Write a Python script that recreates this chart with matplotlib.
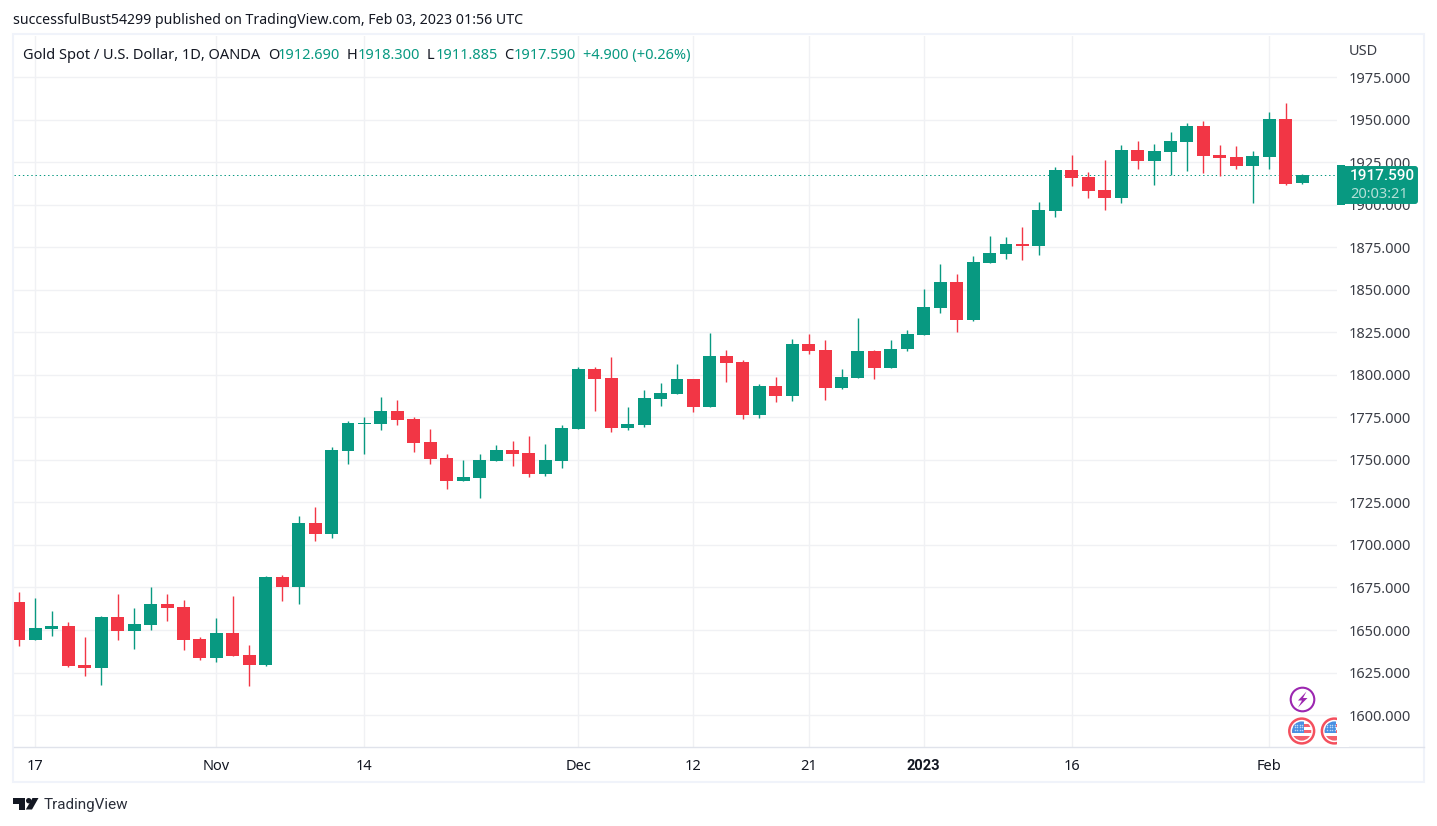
import matplotlib
matplotlib.use("Agg")
import matplotlib.pyplot as plt
from matplotlib.patches import Rectangle, Circle, Polygon, FancyBboxPatch

plt.rcParams['font.family'] = ['Noto Sans', 'DejaVu Sans']

GREEN = '#089981'
RED = '#F23645'
GRID = '#F0F1F4'
BORDER = '#F0F3FA'
INK = '#131722'
FS = 10.5
ROBOTO = ['Roboto', 'DejaVu Sans']

opens = [1666.6, 1644.3, 1650.7, 1652.5, 1629.6, 1627.8, 1657.8, 1649.5, 1653.1, 1665.4,
         1663.7, 1644.8, 1633.7, 1648.4, 1635.4, 1629.6, 1681.3, 1675.4, 1713.0, 1706.6,
         1755.4, 1771.2, 1771.2, 1778.9, 1774.2, 1760.6, 1751.2, 1737.7, 1739.5, 1749.5,
         1755.9, 1754.2, 1741.8, 1749.5, 1768.2, 1803.5, 1798.2, 1768.8, 1770.6, 1785.9,
         1788.8, 1797.7, 1781.2, 1811.2, 1807.6, 1776.5, 1793.5, 1787.7, 1818.2, 1814.7,
         1792.4, 1798.2, 1814.1, 1804.1, 1815.3, 1823.5, 1839.4, 1854.7, 1832.3, 1865.8,
         1871.1, 1877.0, 1875.8, 1896.4, 1920.5, 1916.4, 1908.8, 1904.1, 1932.3, 1925.8,
         1931.1, 1937.0, 1946.4, 1929.3, 1928.2, 1922.9, 1928.2, 1950.5, 1912.69]
highs = [1672.5, 1668.9, 1661.3, 1654.8, 1646.0, 1658.4, 1671.3, 1663.1, 1675.4, 1671.3,
         1667.8, 1646.0, 1657.2, 1670.1, 1641.3, 1681.9, 1682.5, 1717.1, 1722.4, 1757.7,
         1773.0, 1775.3, 1787.1, 1785.3, 1775.3, 1768.3, 1753.6, 1750.1, 1753.6, 1758.9,
         1761.2, 1764.2, 1759.5, 1770.6, 1804.7, 1804.7, 1810.6, 1781.2, 1791.2, 1795.3,
         1806.5, 1797.7, 1824.7, 1814.7, 1808.8, 1794.7, 1798.8, 1821.2, 1824.1, 1820.6,
         1803.5, 1833.5, 1814.7, 1820.6, 1826.5, 1850.5, 1865.2, 1859.4, 1870.0, 1881.7,
         1881.1, 1887.0, 1901.7, 1922.3, 1929.4, 1919.4, 1926.4, 1935.2, 1937.6, 1935.8,
         1942.8, 1948.1, 1949.3, 1935.2, 1934.6, 1931.7, 1954.6, 1959.9, 1918.3]
lows = [1640.7, 1644.0, 1646.6, 1628.4, 1623.1, 1617.8, 1644.3, 1639.0, 1650.1, 1655.4,
        1638.4, 1632.5, 1631.3, 1634.8, 1617.2, 1629.0, 1667.2, 1665.4, 1702.5, 1704.2,
        1747.7, 1753.6, 1767.7, 1770.6, 1754.8, 1747.7, 1733.0, 1737.7, 1727.7, 1749.5,
        1746.5, 1740.1, 1740.6, 1745.3, 1768.2, 1778.8, 1766.5, 1767.7, 1769.4, 1781.8,
        1788.8, 1778.2, 1781.2, 1795.9, 1774.1, 1774.7, 1784.1, 1784.7, 1812.3, 1785.3,
        1791.8, 1798.2, 1797.7, 1804.1, 1814.1, 1823.5, 1836.5, 1825.3, 1831.8, 1865.8,
        1868.2, 1867.6, 1870.6, 1892.9, 1911.1, 1904.1, 1897.0, 1901.1, 1921.1, 1911.7,
        1917.6, 1919.9, 1918.7, 1917.0, 1921.1, 1901.1, 1921.1, 1911.7, 1911.885]
closes = [1644.3, 1651.3, 1652.5, 1629.0, 1627.8, 1657.8, 1649.5, 1653.7, 1665.4, 1663.1,
          1644.3, 1633.7, 1648.4, 1634.8, 1629.6, 1681.3, 1675.4, 1713.0, 1706.6, 1755.9,
          1771.8, 1771.8, 1778.9, 1773.6, 1760.1, 1750.7, 1737.7, 1740.1, 1750.1, 1755.9,
          1753.6, 1741.8, 1750.1, 1768.9, 1803.5, 1797.7, 1768.8, 1771.2, 1786.5, 1789.4,
          1797.7, 1781.2, 1811.2, 1807.1, 1776.5, 1793.5, 1787.7, 1818.2, 1814.1, 1792.4,
          1798.8, 1814.1, 1804.1, 1815.3, 1824.1, 1840.0, 1854.7, 1832.3, 1866.4, 1871.7,
          1877.0, 1875.8, 1897.0, 1920.5, 1915.8, 1908.2, 1904.1, 1932.3, 1925.8, 1931.7,
          1937.6, 1946.4, 1928.7, 1927.6, 1922.9, 1928.7, 1950.5, 1912.3, 1917.59]

price_ticks = [1600, 1625, 1650, 1675, 1700, 1725, 1750, 1775, 1800, 1825, 1850, 1875, 1900, 1925, 1950, 1975]
date_ticks = [1, 12, 21, 34, 41, 48, 55, 64, 76]
date_labels = ["17", "Nov", "14", "Dec", "12", "21", "2023", "16", "Feb"]

W, H = 1437, 826
fig = plt.figure(figsize=(W / 100, H / 100), dpi=100, facecolor='white')

# main pane, 14..1337 px across and 36..747 px down
ax = fig.add_axes([14 / W, 1 - 747 / H, (1337 - 14) / W, (747 - 36) / H])
ax.set_xlim((14 - 19.0) / 16.45, (1337 - 19.0) / 16.45)
ax.set_ylim(1581.25, 1999.15)
for s in ax.spines.values():
    s.set_visible(False)

ax.set_axisbelow(True)
ax.grid(True, color=GRID, lw=1.0)
ax.set_yticks(price_ticks)
ax.set_yticklabels(["%.3f" % p for p in price_ticks])
ax.yaxis.tick_right()
ax.set_xticks(date_ticks)
ax.set_xticklabels(date_labels)
ax.tick_params(axis='y', length=0, pad=8.2, labelsize=FS, labelcolor='#3b3e47')
ax.tick_params(axis='x', length=0, pad=8.5, labelsize=FS, labelcolor=INK)
year_label = ax.get_xticklabels()[6]
year_label.set_family(ROBOTO)
year_label.set_fontweight('bold')

ax.axhline(closes[-1], color=GREEN, lw=0.72, linestyle=(0, (1.4, 2.8)), zorder=1)

for i in range(len(opens)):
    col = GREEN if closes[i] >= opens[i] else RED
    ax.vlines(i, lows[i], highs[i], color=col, lw=1.0, zorder=2)
    ax.bar(i, abs(closes[i] - opens[i]), bottom=min(opens[i], closes[i]),
           width=0.79, color=col, lw=0, zorder=3)

# overlay in pixel coordinates for the frame, header and badges
ov = fig.add_axes([0, 0, 1, 1], facecolor='none')
ov.set_xlim(0, W)
ov.set_ylim(H, 0)
ov.axis('off')

ov.add_patch(Rectangle((13, 34), 1411, 748, fill=False, ec=BORDER, lw=1.5))
ov.plot([14, 1424], [747.3, 747.3], color='#E0E3EB', lw=1.0)

ov.text(13, 20, "successfulBust54299 published on TradingView.com, Feb 03, 2023 01:56 UTC",
        fontsize=10.2, color=INK, va='center')
ov.text(23, 59, "Gold Spot / U.S. Dollar, 1D, OANDA", fontsize=FS, color=INK, va='baseline')
for x, s, c in [(268, "O", INK), (278, "1912.690", GREEN), (347, "H", INK), (358, "1918.300", GREEN),
                (427, "L", INK), (436, "1911.885", GREEN), (504, "C", INK), (514, "1917.590", GREEN),
                (583, "+4.900 (+0.26%)", GREEN)]:
    ov.text(x, 59, s, fontsize=FS, color=c, va='baseline')
ov.text(1349, 51.5, "USD", fontsize=FS, color='#3b3e47', va='center')

# last price badge
ov.add_patch(FancyBboxPatch((1339, 167), 78, 36, boxstyle="round,pad=0,rounding_size=2",
                            fc=GREEN, ec=GREEN, lw=1.4))
ov.add_patch(Rectangle((1337, 165), 8, 39.5, fc=GREEN, ec='none'))
ov.text(1350, 176, "%.3f" % closes[-1], fontsize=11, color='white', va='center',
        fontweight='medium', family=ROBOTO)
ov.text(1350, 194, "20:03:21", fontsize=FS, color='#b5e0d8', va='center')

# event icons
ov.add_patch(Circle((1302.5, 699.5), 11.8, fc='white', ec='#9C27B0', lw=1.5))
ov.add_patch(Polygon([(1306.5, 691.5), (1298, 700.5), (1302, 700.5), (1298, 707.5),
                      (1307.5, 698), (1303, 698)], fc='#9C27B0', ec='none'))


def draw_flag(cx, cy):
    ov.add_patch(Circle((cx, cy), 12.4, fc='white', ec='#F4505E', lw=1.8))
    disc = Circle((cx, cy), 9.6, fc='white', ec='none')
    ov.add_patch(disc)
    parts = [Rectangle((cx - 10, cy - 7), 20, 2.8, fc='#F4616D', ec='none'),
             Rectangle((cx - 10, cy - 1), 20, 2.8, fc='#F4616D', ec='none'),
             Rectangle((cx - 10, cy + 4.5), 20, 6, fc='#F4616D', ec='none'),
             Rectangle((cx - 10, cy - 10), 12, 11.5, fc='#4A90E2', ec='none')]
    for p in parts:
        ov.add_patch(p)
        p.set_clip_path(disc)
    # stars in the canton
    dots = []
    for dx in [-7, -4.5, -2, 0.5]:
        for dy in [-6.5, -4, -1.5]:
            dots.append((cx + dx, cy + dy))
    ov.scatter([d[0] for d in dots], [d[1] for d in dots], s=1.2, c='#BBD8F5', lw=0, zorder=3)


draw_flag(1301.7, 731)
draw_flag(1334.3, 731)
ov.add_patch(Rectangle((1337, 716), 12, 30.5, fc='white', ec='none', zorder=4))

# TradingView logo
ov.add_patch(Polygon([(13, 798), (25, 798), (25, 809.5), (19, 809.5), (19, 803.5), (13, 803.5)],
                     fc=INK, ec='none'))
ov.add_patch(Circle((28.7, 800.7), 2.7, fc=INK, ec='none'))
ov.add_patch(Polygon([(32.5, 798), (38.5, 798), (32, 809.5), (25.8, 809.5)], fc=INK, ec='none'))
ov.text(44, 805, "TradingView", fontsize=11.0, color='#2a2e39', va='center', family=ROBOTO)

fig.savefig("out.png", dpi=100)
